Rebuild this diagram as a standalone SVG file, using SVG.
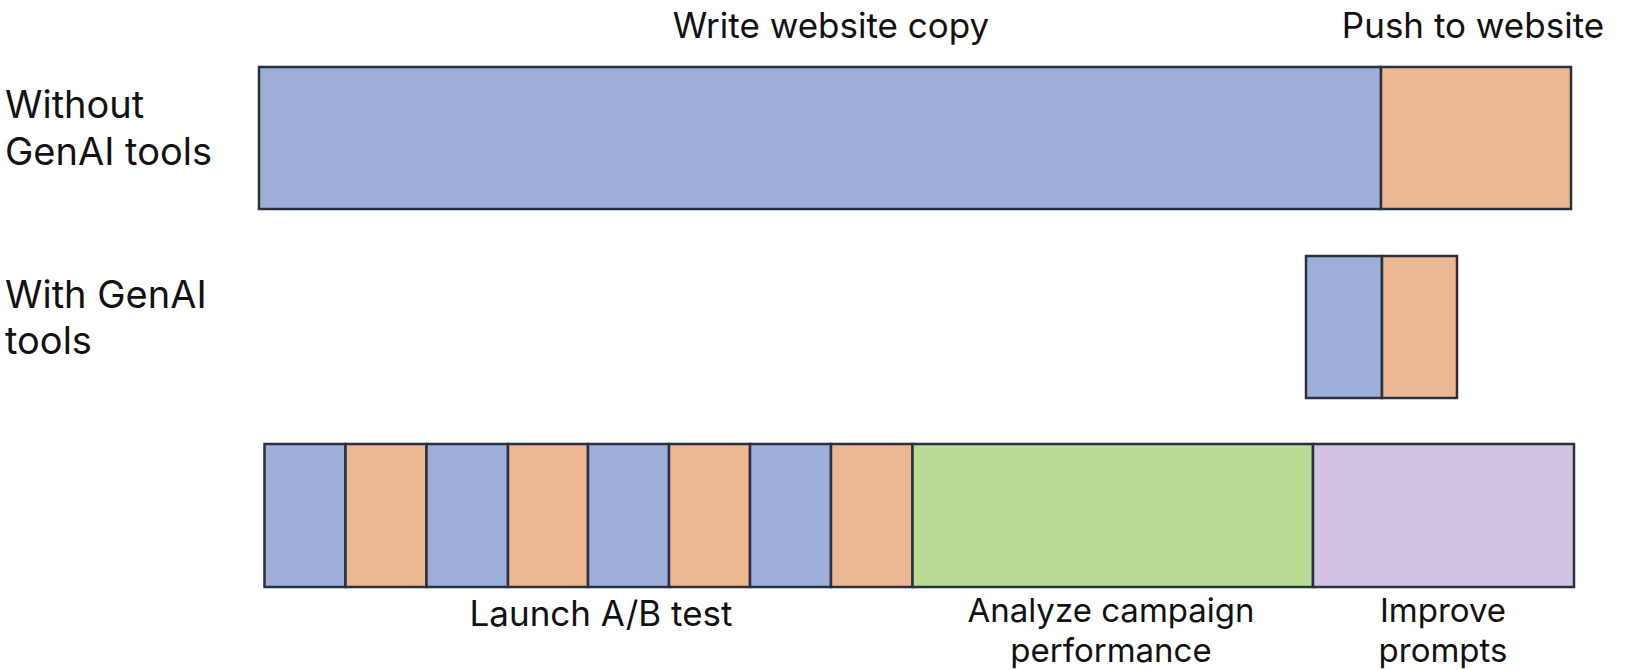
<svg xmlns="http://www.w3.org/2000/svg" width="1626" height="670" viewBox="0 0 1626 670">
<style>
.lbl{font-family:Inter,"Liberation Sans",sans-serif;font-size:35px;fill:#111;}
.big{font-size:38px;}
.sm{font-size:33px;}
.mid{text-anchor:middle;}
.b{fill:#9DAFD9;}
.o{fill:#EDB791;}
.g{fill:#B9DB93;}
.p{fill:#D3C3E3;}
.s{stroke:#2B3040;stroke-width:2.5;}
</style>
<rect width="1626" height="670" fill="#ffffff"/>
<g id="labels-left">
<text class="lbl big" x="5" y="118">Without</text>
<text class="lbl big" x="5" y="165">GenAI tools</text>
<text class="lbl big" x="5" y="308">With GenAI</text>
<text class="lbl big" x="5" y="354">tools</text>
</g>
<g id="row-without">
<rect class="b s" x="259" y="67" width="1122" height="142"/>
<rect class="o s" x="1381" y="67" width="190" height="142"/>
<text class="lbl mid" x="831" y="38">Write website copy</text>
<text class="lbl mid" x="1473" y="38">Push to website</text>
</g>
<g id="row-with">
<rect class="b s" x="1306" y="256" width="76" height="142"/>
<rect class="o s" x="1382" y="256" width="75" height="142"/>
</g>
<g id="row-iterate">
<rect class="b s" x="264.5" y="444" width="81" height="143"/>
<rect class="o s" x="345.5" y="444" width="81" height="143"/>
<rect class="b s" x="426.5" y="444" width="81.5" height="143"/>
<rect class="o s" x="508" y="444" width="80" height="143"/>
<rect class="b s" x="588" y="444" width="81" height="143"/>
<rect class="o s" x="669" y="444" width="81" height="143"/>
<rect class="b s" x="750" y="444" width="81" height="143"/>
<rect class="o s" x="831" y="444" width="81.5" height="143"/>
<rect class="g s" x="912.5" y="444" width="400.5" height="143"/>
<rect class="p s" x="1313" y="444" width="261" height="143"/>
<text class="lbl mid" x="601" y="626">Launch A/B test</text>
<text class="lbl sm mid" x="1111" y="622">Analyze campaign</text>
<text class="lbl sm mid" x="1111" y="662">performance</text>
<text class="lbl sm mid" x="1443" y="622">Improve</text>
<text class="lbl sm mid" x="1443" y="662">prompts</text>
</g>
<g id="connectors"></g>
</svg>
